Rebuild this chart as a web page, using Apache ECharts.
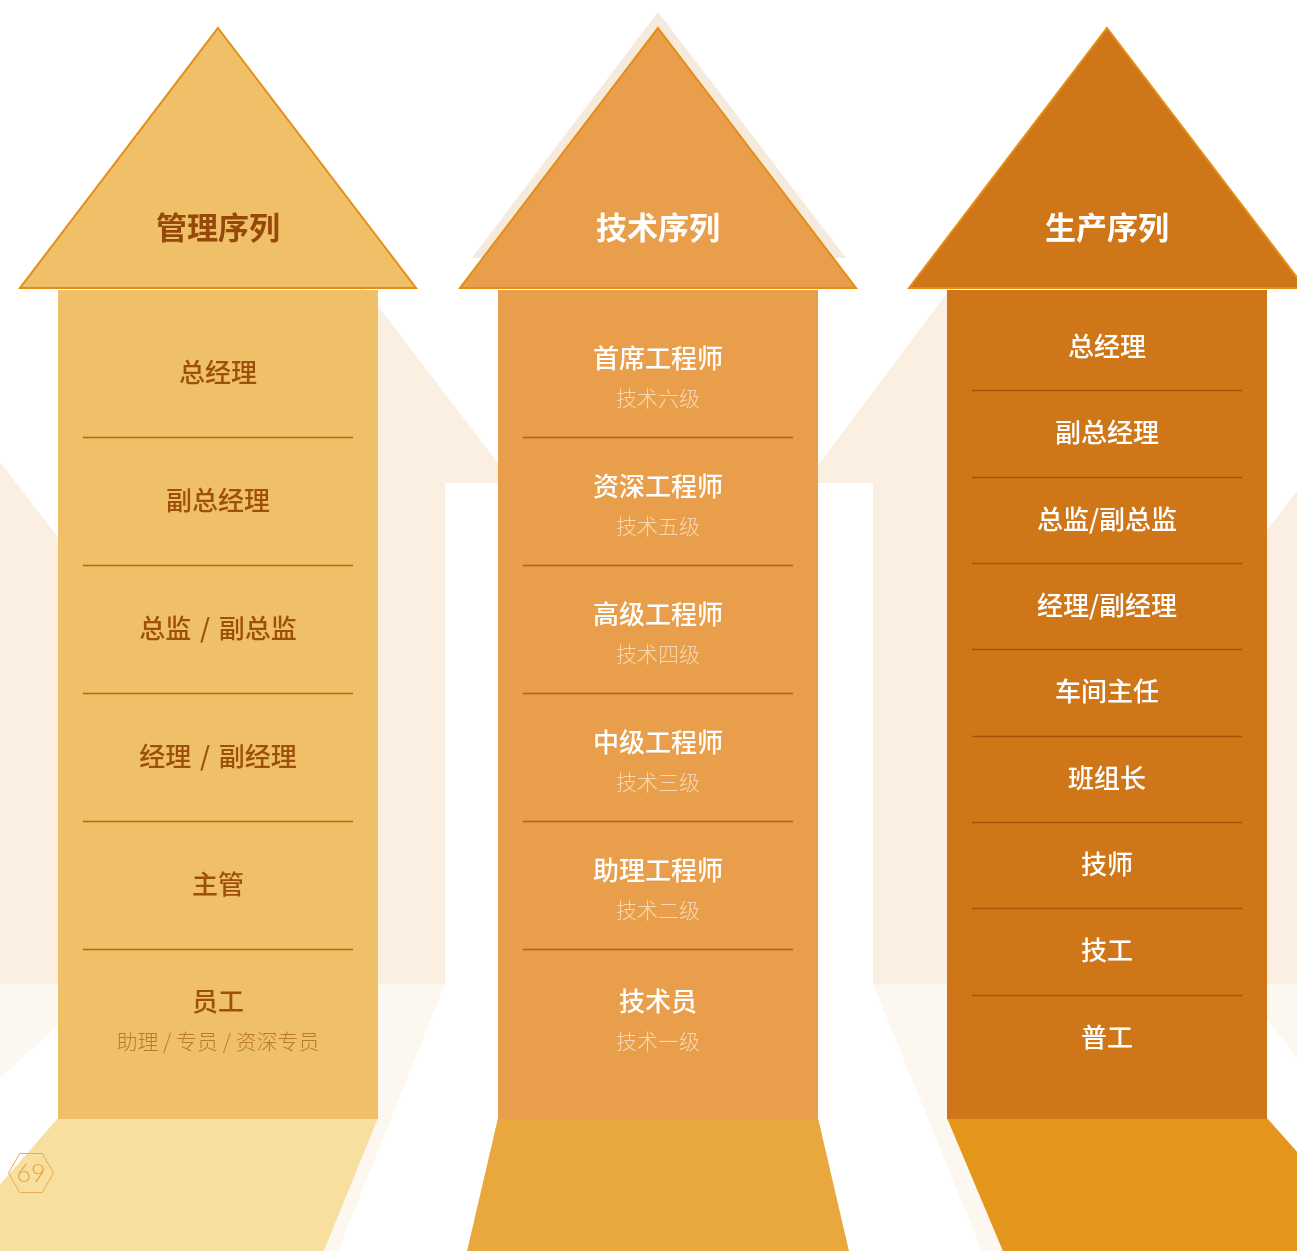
<!DOCTYPE html>
<html>
<head>
<meta charset="utf-8">
<script src="https://cdn.jsdelivr.net/npm/echarts@6/dist/echarts.min.js"></script>
<style>
html,body{margin:0;padding:0;background:#ffffff;}
#main{width:1297px;height:1251px;}
</style>
</head>
<body>
<div id="main"></div>
<script>
// ---------- data ----------
const columns = ['管理序列', '技术序列', '生产序列'];
const mgmtLevels = ['总经理', '副总经理', '总监 / 副总监', '经理 / 副经理', '主管', '员工'];
const mgmtSub = ['', '', '', '', '', '助理 / 专员 / 资深专员'];
const techLevels = ['首席工程师', '资深工程师', '高级工程师', '中级工程师', '助理工程师', '技术员'];
const techSub = ['技术六级', '技术五级', '技术四级', '技术三级', '技术二级', '技术一级'];
const prodLevels = ['总经理', '副总经理', '总监/副总监', '经理/副经理', '车间主任', '班组长', '技师', '技工', '普工'];
const prodSub = ['', '', '', '', '', '', '', '', ''];
const pageNumber = '69';

// ---------- layout / style constants ----------
const SHAFT_TOP = 290, SHAFT_BOTTOM = 1118, HEAD_APEX = 28, HEAD_OVER = 38;
const TITLE_Y = 227, FLOOR_BOTTOM = 1252, VANISH_X = 658, PERSP = 0.195;
const FONT = '"Noto Sans CJK SC", "Noto Sans", sans-serif';
const styles = [
  {fill: '#F0C068', floor: '#F7E09F', title: '#96470A', main: '#9E500A', sub: '#B97A30', line: '#B5660F'},
  {fill: '#E99E4B', floor: '#E9A83D', title: '#FFFFFF', main: '#FFFFFF', sub: '#F8D8B2', line: '#B0600F'},
  {fill: '#CF7619', floor: '#E4951B', title: '#FFFFFF', main: '#FFFFFF', sub: '#F8D8B2', line: '#A55407'}
];
const colLevels = [mgmtLevels, techLevels, prodLevels];
const colSubs = [mgmtSub, techSub, prodSub];
// widen the spaces around slashes like the original typesetting
const wide = s => s.replace(/ /g, '\u2004');

function makeRender(ci) {
  const levels = colLevels[ci], subs = colSubs[ci], st = styles[ci];
  return function (params, api) {
    const cs = params.coordSys;
    const j = api.value(1);
    const c = api.coord([api.value(0), j]);
    const band = api.size([0, 1])[1];
    const children = [];
    if (params.dataIndex === 0) {
      const L = cs.x, R = cs.x + cs.width, cx = c[0];
      children.push({type: 'polygon', shape: {points: [
        [L, SHAFT_BOTTOM], [R, SHAFT_BOTTOM],
        [R + (R - VANISH_X) * PERSP, FLOOR_BOTTOM], [L + (L - VANISH_X) * PERSP, FLOOR_BOTTOM]]},
        style: {fill: st.floor}});
      children.push({type: 'rect', shape: {x: L, y: SHAFT_TOP, width: cs.width, height: SHAFT_BOTTOM - SHAFT_TOP + 1},
        style: {fill: st.fill}});
      children.push({type: 'polygon', shape: {points: [
        [cx, HEAD_APEX], [R + HEAD_OVER, SHAFT_TOP - 2], [L - HEAD_OVER, SHAFT_TOP - 2]]},
        style: {fill: st.fill, stroke: '#E58D14', lineWidth: 2}});
      children.push({type: 'text', style: {text: columns[ci], x: cx, y: TITLE_Y, align: 'center', verticalAlign: 'middle',
        fill: st.title, fontSize: 31, fontWeight: 'bold', fontFamily: FONT}});
    }
    const sub = subs[j];
    const last = j === levels.length - 1;
    children.push({type: 'text', style: {text: wide(levels[j]), x: c[0], y: c[1] + (sub ? (last ? -12 : -15) : -1),
      align: 'center', verticalAlign: 'middle', fill: st.main, fontSize: 26, fontWeight: 500, fontFamily: FONT}});
    if (sub) {
      children.push({type: 'text', style: {text: sub, x: c[0], y: c[1] + (last ? 28 : 25),
        align: 'center', verticalAlign: 'middle', fill: st.sub, fontSize: 21, fontWeight: 300, fontFamily: FONT}});
    }
    if (!last) {
      const y = Math.round(c[1] + band / 2) + 0.5;
      children.push({type: 'line', shape: {x1: cs.x + 25, y1: y, x2: cs.x + cs.width - 25, y2: y},
        style: {stroke: st.line, lineWidth: 1.5}});
    }
    return {type: 'group', children: children};
  };
}

const grids = [
  {left: 58, top: 309, width: 320, height: 768},
  {left: 498, top: 309, width: 320, height: 768},
  {left: 947, top: 304, width: 320, height: 777}
];

const cream = '#FBEFE2', light = '#FDF8EF';
const hexC = [31, 1173], hexR = 22.5;
const hexPts = [0, 1, 2, 3, 4, 5].map(k => [hexC[0] + hexR * Math.cos(k * Math.PI / 3), hexC[1] + hexR * Math.sin(k * Math.PI / 3)]);

const option = {
  animation: false,
  backgroundColor: '#ffffff',
  grid: grids.map(g => Object.assign({containLabel: false}, g)),
  xAxis: grids.map((g, i) => ({type: 'value', gridIndex: i, min: 0, max: 1, show: false})),
  yAxis: colLevels.map((lv, i) => ({type: 'category', gridIndex: i, data: lv, inverse: true, show: false})),
  graphic: {elements: [
    {type: 'polygon', z: 0, shape: {points: [[0, 462], [70, 553], [70, 984], [0, 984]]}, style: {fill: cream}},
    {type: 'polygon', z: 0, shape: {points: [[330, 243], [513, 483], [445, 483], [445, 984], [360, 984], [360, 243]]}, style: {fill: cream}},
    {type: 'polygon', z: 0, shape: {points: [[979, 250], [805, 483], [873, 483], [873, 984], [960, 984], [960, 250]]}, style: {fill: cream}},
    {type: 'polygon', z: 0, shape: {points: [[1297, 491], [1255, 546], [1255, 984], [1297, 984]]}, style: {fill: cream}},
    {type: 'polygon', z: 0, shape: {points: [[658, 12], [846, 258], [472, 258]]}, style: {fill: '#F6EADC'}},
    {type: 'polygon', z: 0, shape: {points: [[103, 984], [445, 984], [338, 1251], [300, 1251], [200, 1119], [58, 1025], [0, 1078], [0, 984]]}, style: {fill: light}},
    {type: 'polygon', z: 0, shape: {points: [[873, 984], [960, 984], [1005, 1251], [982, 1251]]}, style: {fill: light}},
    {type: 'polygon', z: 0, shape: {points: [[1255, 984], [1297, 984], [1297, 1058], [1267, 1019], [1255, 1005]]}, style: {fill: light}},
    {type: 'polygon', z: 100, shape: {points: hexPts}, style: {fill: 'none', stroke: '#EDA84B', lineWidth: 1}},
    {type: 'text', z: 100, style: {text: pageNumber, x: hexC[0], y: hexC[1] + 1, align: 'center', verticalAlign: 'middle',
      fill: '#EBA13A', fontSize: 25, fontWeight: 300, fontFamily: 'Lato, "Open Sans", sans-serif'}}
  ]},
  series: colLevels.map((lv, i) => ({
    type: 'custom',
    name: columns[i],
    xAxisIndex: i,
    yAxisIndex: i,
    z: 10,
    silent: true,
    renderItem: makeRender(i),
    encode: {x: 0, y: 1},
    data: lv.map((name, j) => ({name: name, value: [0.5, j]}))
  }))
};

const chart = echarts.init(document.getElementById('main'));
chart.setOption(option);
</script>
</body>
</html>
